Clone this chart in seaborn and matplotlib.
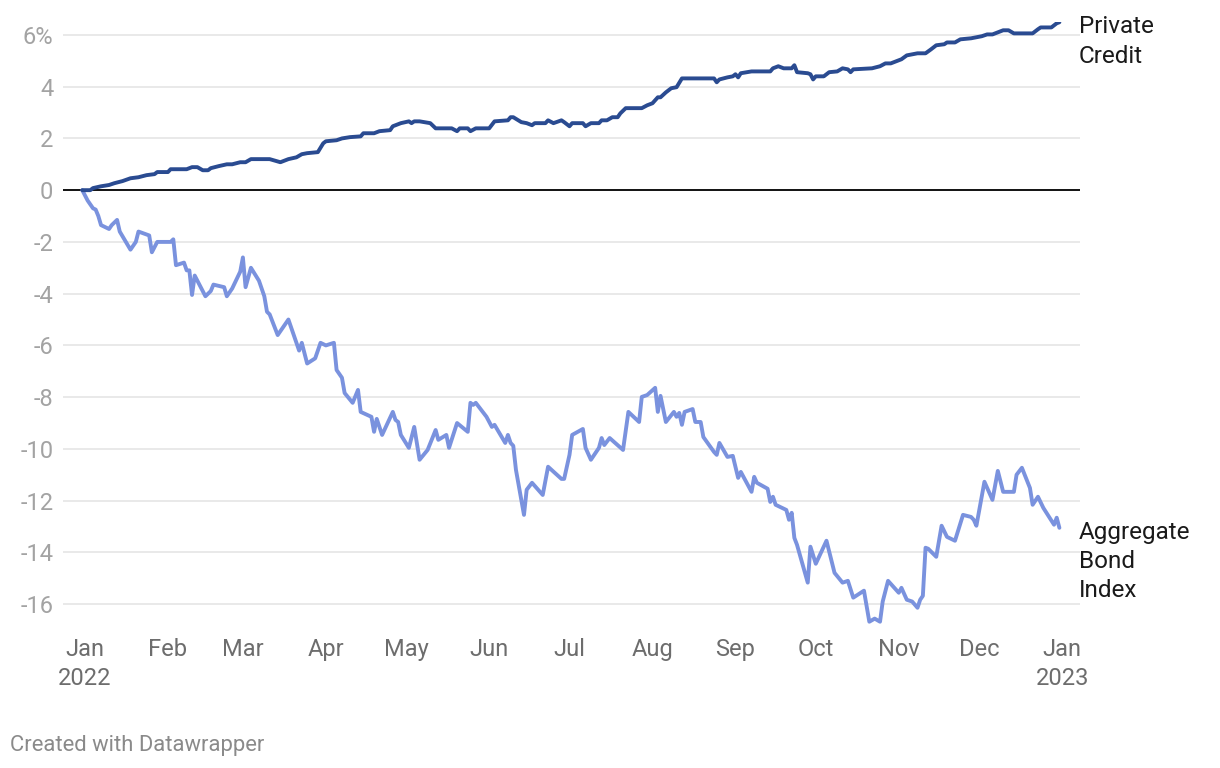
import pandas as pd
import matplotlib
matplotlib.use("Agg")
import matplotlib.pyplot as plt
import seaborn as sns

# 累计回报 (%)，按图上读数估计
credit_dates = [
    "2021-12-31", "2022-01-03", "2022-01-04", "2022-01-07", "2022-01-10", "2022-01-12", "2022-01-15", "2022-01-18", "2022-01-21", "2022-01-24",
    "2022-01-27", "2022-01-28", "2022-02-01", "2022-02-02", "2022-02-08", "2022-02-10", "2022-02-12", "2022-02-14", "2022-02-16", "2022-02-17",
    "2022-02-20", "2022-02-23", "2022-02-25", "2022-02-28", "2022-03-02", "2022-03-04", "2022-03-11", "2022-03-15", "2022-03-16", "2022-03-18",
    "2022-03-21", "2022-03-23", "2022-03-25", "2022-03-29", "2022-03-31", "2022-04-01", "2022-04-05", "2022-04-07", "2022-04-10", "2022-04-14",
    "2022-04-15", "2022-04-19", "2022-04-21", "2022-04-25", "2022-04-26", "2022-04-29", "2022-05-02", "2022-05-03", "2022-05-04", "2022-05-06",
    "2022-05-10", "2022-05-12", "2022-05-18", "2022-05-20", "2022-05-21", "2022-05-24", "2022-05-25", "2022-05-27", "2022-06-01", "2022-06-03",
    "2022-06-08", "2022-06-09", "2022-06-10", "2022-06-13", "2022-06-15", "2022-06-17", "2022-06-18", "2022-06-22", "2022-06-23", "2022-06-25",
    "2022-06-28", "2022-06-29", "2022-07-01", "2022-07-02", "2022-07-06", "2022-07-07", "2022-07-09", "2022-07-12", "2022-07-13", "2022-07-15",
    "2022-07-17", "2022-07-19", "2022-07-20", "2022-07-22", "2022-07-28", "2022-07-30", "2022-08-01", "2022-08-03", "2022-08-04", "2022-08-06",
    "2022-08-08", "2022-08-10", "2022-08-12", "2022-08-24", "2022-08-25", "2022-08-26", "2022-08-29", "2022-08-31", "2022-09-01", "2022-09-02",
    "2022-09-03", "2022-09-07", "2022-09-14", "2022-09-15", "2022-09-17", "2022-09-19", "2022-09-22", "2022-09-23", "2022-09-24", "2022-09-28",
    "2022-09-29", "2022-09-30", "2022-10-01", "2022-10-04", "2022-10-06", "2022-10-09", "2022-10-11", "2022-10-13", "2022-10-14", "2022-10-15",
    "2022-10-22", "2022-10-25", "2022-10-27", "2022-10-29", "2022-11-02", "2022-11-04", "2022-11-08", "2022-11-11", "2022-11-13", "2022-11-15",
    "2022-11-18", "2022-11-19", "2022-11-22", "2022-11-24", "2022-11-28", "2022-11-30", "2022-12-02", "2022-12-04", "2022-12-06", "2022-12-08",
    "2022-12-10", "2022-12-12", "2022-12-14", "2022-12-21", "2022-12-23", "2022-12-24", "2022-12-28", "2022-12-29", "2022-12-30", "2022-12-31",
]
credit_values = [
    0, 0, 0.08, 0.15, 0.2, 0.27, 0.35, 0.46, 0.5, 0.58,
    0.62, 0.7, 0.7, 0.81, 0.81, 0.89, 0.89, 0.77, 0.77, 0.85,
    0.93, 1.0, 1.0, 1.08, 1.08, 1.2, 1.2, 1.08, 1.12, 1.2,
    1.27, 1.39, 1.43, 1.47, 1.81, 1.89, 1.93, 2.0, 2.05, 2.08,
    2.2, 2.2, 2.28, 2.32, 2.47, 2.59, 2.66, 2.59, 2.66, 2.66,
    2.59, 2.39, 2.39, 2.28, 2.39, 2.39, 2.28, 2.39, 2.39, 2.66,
    2.7, 2.82, 2.82, 2.63, 2.59, 2.51, 2.59, 2.59, 2.7, 2.59,
    2.7, 2.63, 2.47, 2.59, 2.59, 2.47, 2.59, 2.59, 2.7, 2.7,
    2.82, 2.82, 2.97, 3.17, 3.17, 3.28, 3.36, 3.59, 3.59, 3.78,
    3.94, 3.98, 4.32, 4.32, 4.17, 4.28, 4.36, 4.4, 4.48, 4.36,
    4.52, 4.59, 4.59, 4.71, 4.79, 4.71, 4.71, 4.83, 4.56, 4.52,
    4.48, 4.28, 4.4, 4.4, 4.56, 4.59, 4.71, 4.67, 4.56, 4.67,
    4.71, 4.79, 4.9, 4.9, 5.06, 5.21, 5.29, 5.29, 5.44, 5.6,
    5.64, 5.71, 5.71, 5.83, 5.87, 5.91, 5.95, 6.02, 6.02, 6.1,
    6.18, 6.18, 6.06, 6.06, 6.22, 6.29, 6.29, 6.37, 6.45, 6.49,
]

bond_dates = [
    "2021-12-31", "2022-01-02", "2022-01-04", "2022-01-05", "2022-01-06", "2022-01-07", "2022-01-10", "2022-01-11", "2022-01-13", "2022-01-14",
    "2022-01-18", "2022-01-20", "2022-01-21", "2022-01-25", "2022-01-26", "2022-01-28", "2022-02-02", "2022-02-03", "2022-02-04", "2022-02-07",
    "2022-02-08", "2022-02-09", "2022-02-10", "2022-02-11", "2022-02-15", "2022-02-17", "2022-02-18", "2022-02-22", "2022-02-23", "2022-02-25",
    "2022-02-28", "2022-03-01", "2022-03-02", "2022-03-04", "2022-03-07", "2022-03-09", "2022-03-10", "2022-03-11", "2022-03-14", "2022-03-18",
    "2022-03-22", "2022-03-23", "2022-03-25", "2022-03-28", "2022-03-30", "2022-04-01", "2022-04-04", "2022-04-05", "2022-04-07", "2022-04-08",
    "2022-04-11", "2022-04-13", "2022-04-14", "2022-04-18", "2022-04-19", "2022-04-20", "2022-04-22", "2022-04-26", "2022-04-27", "2022-04-28",
    "2022-04-29", "2022-05-02", "2022-05-04", "2022-05-06", "2022-05-09", "2022-05-12", "2022-05-13", "2022-05-16", "2022-05-17", "2022-05-20",
    "2022-05-24", "2022-05-25", "2022-05-26", "2022-05-27", "2022-05-31", "2022-06-02", "2022-06-03", "2022-06-07", "2022-06-08", "2022-06-09",
    "2022-06-10", "2022-06-11", "2022-06-14", "2022-06-15", "2022-06-17", "2022-06-21", "2022-06-23", "2022-06-28", "2022-06-29", "2022-07-01",
    "2022-07-02", "2022-07-06", "2022-07-07", "2022-07-09", "2022-07-12", "2022-07-13", "2022-07-14", "2022-07-16", "2022-07-21", "2022-07-23",
    "2022-07-27", "2022-07-28", "2022-07-30", "2022-08-02", "2022-08-03", "2022-08-04", "2022-08-06", "2022-08-09", "2022-08-10", "2022-08-11",
    "2022-08-12", "2022-08-13", "2022-08-16", "2022-08-17", "2022-08-19", "2022-08-20", "2022-08-24", "2022-08-25", "2022-08-26", "2022-08-29",
    "2022-08-31", "2022-09-02", "2022-09-03", "2022-09-07", "2022-09-08", "2022-09-09", "2022-09-13", "2022-09-14", "2022-09-15", "2022-09-16",
    "2022-09-20", "2022-09-21", "2022-09-22", "2022-09-23", "2022-09-24", "2022-09-28", "2022-09-29", "2022-10-01", "2022-10-05", "2022-10-08",
    "2022-10-11", "2022-10-13", "2022-10-15", "2022-10-19", "2022-10-21", "2022-10-23", "2022-10-25", "2022-10-26", "2022-10-28", "2022-10-30",
    "2022-11-01", "2022-11-02", "2022-11-04", "2022-11-06", "2022-11-08", "2022-11-09", "2022-11-10", "2022-11-11", "2022-11-12", "2022-11-15",
    "2022-11-17", "2022-11-19", "2022-11-22", "2022-11-25", "2022-11-28", "2022-11-29", "2022-11-30", "2022-12-03", "2022-12-06", "2022-12-08",
    "2022-12-10", "2022-12-14", "2022-12-15", "2022-12-17", "2022-12-20", "2022-12-21", "2022-12-23", "2022-12-25", "2022-12-29", "2022-12-30",
    "2022-12-31",
]
bond_values = [
    0, -0.4, -0.7, -0.75, -1.0, -1.35, -1.5, -1.35, -1.15, -1.6,
    -2.3, -2.0, -1.6, -1.75, -2.4, -2.0, -2.0, -1.9, -2.9, -2.8,
    -3.1, -3.1, -4.05, -3.3, -4.1, -3.9, -3.65, -3.75, -4.1, -3.8,
    -3.15, -2.6, -3.75, -3.0, -3.5, -4.1, -4.7, -4.8, -5.6, -5.0,
    -6.2, -5.9, -6.7, -6.5, -5.9, -6.0, -5.9, -6.95, -7.25, -7.84,
    -8.22, -7.72, -8.57, -8.76, -9.34, -8.84, -9.46, -8.57, -8.88, -8.96,
    -9.46, -9.96, -9.15, -10.42, -10.04, -9.27, -9.65, -9.46, -9.96, -9.0,
    -9.34, -8.22, -8.3, -8.22, -8.76, -9.15, -9.07, -9.77, -9.46, -9.77,
    -9.88, -10.81, -12.55, -11.58, -11.31, -11.78, -10.69, -11.16, -11.16, -10.23,
    -9.46, -9.23, -9.96, -10.42, -9.96, -9.58, -9.85, -9.58, -10.04, -8.57,
    -8.96, -7.99, -7.92, -7.64, -8.57, -7.95, -8.96, -8.57, -8.76, -8.61,
    -9.07, -8.57, -8.46, -8.96, -8.96, -9.54, -10.12, -10.23, -9.77, -10.31,
    -10.27, -11.12, -10.89, -11.66, -11.08, -11.31, -11.54, -12.05, -11.85, -12.16,
    -12.36, -12.74, -12.47, -13.44, -13.71, -15.17, -13.78, -14.44, -13.55, -14.79,
    -15.17, -15.1, -15.75, -15.48, -16.68, -16.56, -16.68, -15.9, -15.1, -15.33,
    -15.56, -15.37, -15.83, -15.9, -16.14, -15.83, -15.68, -13.82, -13.86, -14.17,
    -12.97, -13.4, -13.55, -12.55, -12.63, -12.74, -12.97, -11.27, -11.97, -10.85,
    -11.66, -11.66, -11.0, -10.73, -11.51, -12.16, -11.85, -12.28, -12.93, -12.66,
    -13.05,
]

series_names = ["Private\nCredit", "Aggregate\nBond\nIndex"]
series_colors = ["#2a4b91", "#7a92de"]
y_ticks = [6, 4, 2, 0, -2, -4, -6, -8, -10, -12, -14, -16]
y_tick_labels = ["6%", "4", "2", "0", "-2", "-4", "-6", "-8", "-10", "-12", "-14", "-16"]
x_tick_labels = ["Jan\n2022", "Feb", "Mar", "Apr", "May", "Jun", "Jul",
                 "Aug", "Sep", "Oct", "Nov", "Dec", "Jan\n2023"]

df = pd.concat([
    pd.DataFrame({"date": pd.to_datetime(credit_dates), "value": credit_values, "series": series_names[0]}),
    pd.DataFrame({"date": pd.to_datetime(bond_dates), "value": bond_values, "series": series_names[1]}),
], ignore_index=True)

sns.set_theme(style="white")
plt.rcParams['font.family'] = ['Roboto', 'DejaVu Sans']

fig = plt.figure(figsize=(12.2, 7.68), dpi=100)
ax = fig.add_axes([63 / 1220, 138 / 768, 1017 / 1220, 608 / 768])

for yt in y_ticks:
    if yt != 0:
        ax.axhline(yt, color="#e3e3e3", linewidth=1.1, zorder=0)
ax.axhline(0, color="#111111", linewidth=1.4, zorder=1)

sns.lineplot(data=df, x="date", y="value", hue="series",
             palette=dict(zip(series_names, series_colors)),
             hue_order=series_names[::-1], linewidth=2.8,
             legend=False, ax=ax, zorder=3)

ax.set_xlim(pd.Timestamp("2022-01-01") - pd.Timedelta(days=8.2),
            pd.Timestamp("2023-01-01") + pd.Timedelta(days=6.7))
ax.set_ylim(-17, 6.5)

month_ticks = pd.date_range("2022-01-01", "2023-01-01", freq="MS")
ax.set_xticks(month_ticks)
ax.set_xticklabels(x_tick_labels, fontsize=17, color="#6d6d6d", linespacing=1.3)
ax.set_yticks(y_ticks)
ax.set_yticklabels(y_tick_labels, fontsize=17, color="#a3a3a3")
ax.tick_params(axis="x", length=0, pad=6)
ax.tick_params(axis="y", length=0, pad=7)
for s in ax.spines.values():
    s.set_visible(False)
ax.set_xlabel("")
ax.set_ylabel("")

# 线尾标签
ends = [(credit_dates[-1], credit_values[-1]), (bond_dates[-1], bond_values[-1])]
for name, (d, v) in zip(series_names, ends):
    ax.annotate(name, xy=(pd.Timestamp(d), v), xytext=(14, 5),
                textcoords="offset points", ha="left", va="top",
                fontsize=17.5, color="#1a1a1a", linespacing=1.35,
                annotation_clip=False)

fig.text(10 / 1220, 1 - 745 / 768, "Created with Datawrapper",
         fontsize=15.8, color="#8a8a8a", va="center", ha="left")

fig.savefig("out.png", dpi=100)
